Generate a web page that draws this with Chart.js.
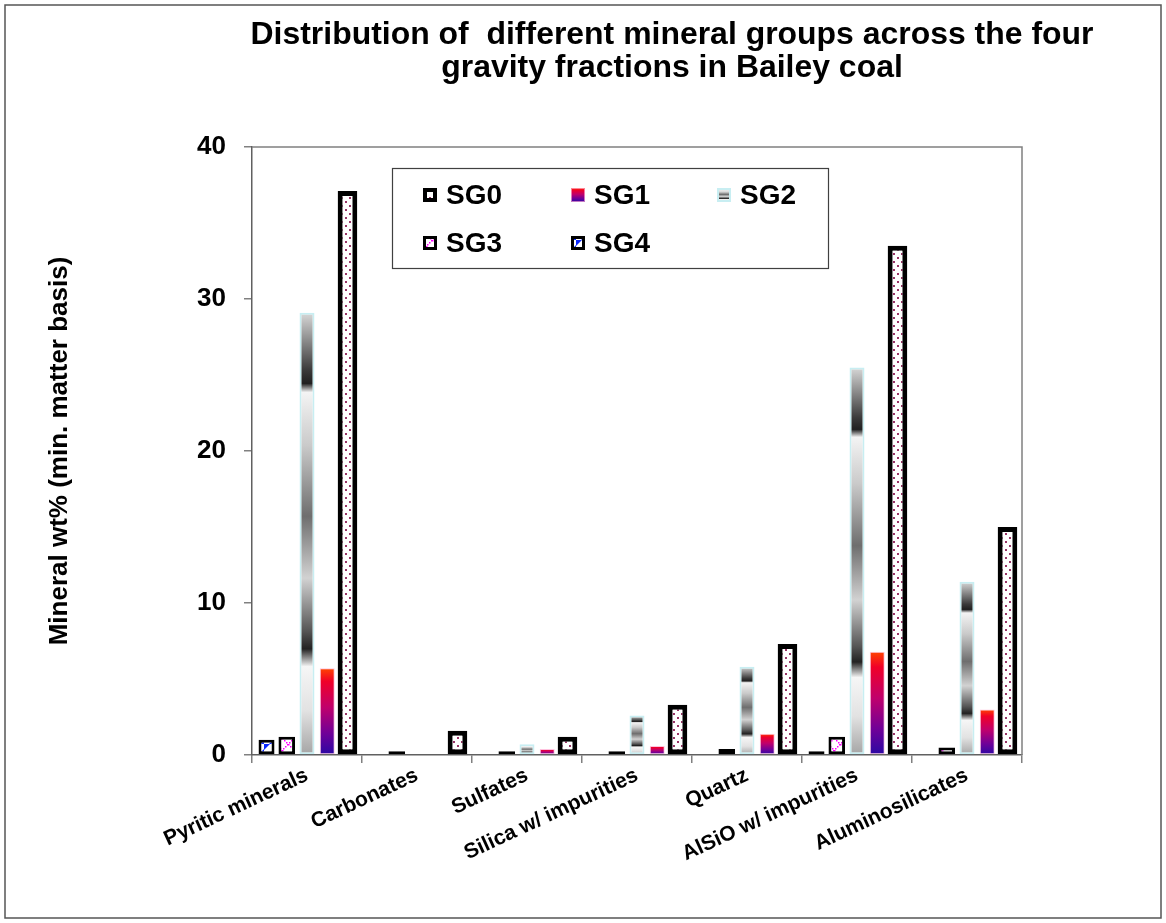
<!DOCTYPE html>
<html lang="en">
<head>
<meta charset="UTF-8">
<title>Mineral groups in Bailey coal</title>
<script src="https://cdn.jsdelivr.net/npm/chart.js"></script>
<style>
  html, body { margin: 0; padding: 0; background: #fff; }
  #wrap { width: 1166px; height: 923px; }
</style>
</head>
<body>
<div id="wrap"><canvas id="chart" width="1166" height="923"></canvas></div>
<script>
// values, wt% on a mineral matter basis
const categories = ['Pyritic minerals', 'Carbonates', 'Sulfates', 'Silica w/ impurities',
                    'Quartz', 'AlSiO w/ impurities', 'Aluminosilicates'];
const sg0 = [37.1, 1.6, 1.2, 3.3, 7.3, 33.5, 15.0];
const sg1 = [5.7, 0, 0.4, 0.6, 1.4, 6.8, 3.0];
const sg2 = [29.1, 0, 0.7, 2.6, 5.8, 25.5, 11.4];
const sg3 = [1.2, 0.25, 0.25, 0.25, 0.4, 1.2, 0.5];
const sg4 = [1.0, 0, 0, 0, 0, 0.25, 0];
const yTicks = [0, 10, 20, 30, 40];
const titleLines = ['Distribution of  different mineral groups across the four',
                    'gravity fractions in Bailey coal'];
const yTitle = 'Mineral wt% (min. matter basis)';

const FONT = '"Liberation Sans", Arial, sans-serif';

// --- fill patterns, roughly like the Excel ones ---
function makeTile(w, h, draw) {
    const c = document.createElement('canvas');
    c.width = w; c.height = h;
    const g = c.getContext('2d');
    g.fillStyle = '#ffffff';
    g.fillRect(0, 0, w, h);
    draw(g);
    return document.getElementById('chart').getContext('2d').createPattern(c, 'repeat');
}

const dotPattern = makeTile(8, 8, g => {
    g.fillStyle = '#993366';
    g.fillRect(1, 1, 2, 2);
    g.fillRect(5, 5, 2, 2);
});
const crossPattern = makeTile(12, 12, g => {
    g.fillStyle = '#ff00ff';
    for (let i = 0; i < 6; i++) {
        g.fillRect(i * 2, i * 2, 1.5, 1.5);
        g.fillRect(11 - i * 2, i * 2, 1.5, 1.5);
    }
});
const wedgePattern = makeTile(12, 12, g => {
    g.fillStyle = '#0a28ff';
    g.beginPath(); g.moveTo(0, 0); g.lineTo(6, 0); g.lineTo(0, 6); g.closePath(); g.fill();
    g.beginPath(); g.moveTo(12, 12); g.lineTo(5, 12); g.lineTo(12, 5); g.closePath(); g.fill();
});

const grayStops = [[0, '#d8d8d8'], [0.13, '#3a3a3a'], [0.16, '#202020'], [0.18, '#f4f4f4'],
                   [0.30, '#cacaca'], [0.46, '#6e6e6e'], [0.60, '#d2d2d2'], [0.72, '#555555'],
                   [0.76, '#222222'], [0.80, '#f6f6f6'], [0.90, '#e2e2e2'], [1, '#a4a4a4']];
const redStops = [[0, '#ff4400'], [0.15, '#f00028'], [0.45, '#c0006c'], [0.75, '#700098'], [1, '#2a08a4']];

function gradientFor(stops, top, bottom) {
    const ctx = document.getElementById('chart').getContext('2d');
    const g = ctx.createLinearGradient(0, top, 0, bottom);
    stops.forEach(s => g.addColorStop(s[0], s[1]));
    return g;
}

function barGradient(stops, fallback) {
    return function (c) {
        const y = c.chart.scales.y;
        if (!y || c.raw == null) return fallback;
        const top = y.getPixelForValue(c.raw);
        const bottom = y.getPixelForValue(0);
        if (!(bottom - top > 0.5)) return fallback;
        return gradientFor(stops, top, bottom);
    };
}

// bars run SG4 .. SG0 from left to right in each group
const datasets = [
    { label: 'SG4', data: sg4, backgroundColor: wedgePattern, borderColor: '#000000',
      borderWidth: 3, barPercentage: 0.79 },
    { label: 'SG3', data: sg3, backgroundColor: crossPattern, borderColor: '#000000',
      borderWidth: 3, barPercentage: 0.82 },
    { label: 'SG2', data: sg2, backgroundColor: barGradient(grayStops, '#b0b0b0'),
      borderColor: '#c8eef2', borderWidth: 2, barPercentage: 0.74 },
    { label: 'SG1', data: sg1, backgroundColor: barGradient(redStops, '#a00070'),
      borderColor: 'rgba(255,170,210,0.7)', borderWidth: 1, barPercentage: 0.74 },
    { label: 'SG0', data: sg0, backgroundColor: dotPattern, borderColor: '#000000',
      borderWidth: 5, barPercentage: 0.97 }
];
datasets.forEach(d => { d.categoryPercentage = 0.92; d.borderSkipped = false; });

// frame, plot box, title and the boxed legend
const decorations = {
    id: 'decorations',
    beforeDraw(chart) {
        const ctx = chart.ctx;
        ctx.save();
        ctx.fillStyle = '#ffffff';
        ctx.fillRect(0, 0, chart.width, chart.height);
        ctx.strokeStyle = '#555555';
        ctx.lineWidth = 1.5;
        ctx.strokeRect(5, 5, chart.width - 10, chart.height - 10);
        ctx.restore();
    },
    afterDraw(chart) {
        const ctx = chart.ctx;
        const a = chart.chartArea;
        ctx.save();
        ctx.strokeStyle = '#808080';
        ctx.lineWidth = 1.5;
        ctx.beginPath();
        ctx.moveTo(a.left, a.top);
        ctx.lineTo(a.right, a.top);
        ctx.lineTo(a.right, a.bottom);
        ctx.stroke();

        // title, a little narrow like the original
        ctx.fillStyle = '#000000';
        ctx.font = 'bold 31px ' + FONT;
        ctx.textAlign = 'center';
        ctx.textBaseline = 'middle';
        const squeeze = 843 / ctx.measureText(titleLines[0]).width;
        [35, 68].forEach((ty, i) => {
            ctx.save();
            ctx.translate(672, ty);
            ctx.scale(squeeze, 1);
            ctx.fillText(titleLines[i], 0, 0);
            ctx.restore();
        });

        // legend box
        const box = { x: 392, y: 168, w: 436, h: 100 };
        ctx.fillStyle = '#ffffff';
        ctx.fillRect(box.x, box.y, box.w, box.h);
        ctx.strokeStyle = '#404040';
        ctx.lineWidth = 1.2;
        ctx.strokeRect(box.x + 0.5, box.y + 0.5, box.w, box.h);
        const cols = [423, 571, 717];
        const rows = [195, 243];
        const order = chart.data.datasets.slice().reverse();
        order.forEach((ds, i) => {
            const sx = cols[i % 3], sy = rows[Math.floor(i / 3)] - 7;
            let fill = ds.backgroundColor;
            if (typeof fill === 'function') {
                fill = gradientFor(ds.label === 'SG2' ? grayStops : redStops, sy, sy + 14);
            }
            ctx.fillStyle = fill;
            ctx.fillRect(sx, sy, 14, 14);
            const bw = Math.min(ds.borderWidth, 4);
            ctx.strokeStyle = ds.borderColor;
            ctx.lineWidth = bw;
            ctx.strokeRect(sx + bw / 2, sy + bw / 2, 14 - bw, 14 - bw);
            ctx.fillStyle = '#000000';
            ctx.font = 'bold 28px ' + FONT;
            ctx.textAlign = 'left';
            ctx.textBaseline = 'middle';
            ctx.fillText(ds.label, sx + 23, sy + 8);
        });
        ctx.restore();
    }
};

new Chart(document.getElementById('chart'), {
    type: 'bar',
    data: { labels: categories, datasets: datasets },
    options: {
        responsive: false,
        animation: false,
        layout: { padding: { left: 0, top: 147, right: 144, bottom: 0 } },
        plugins: {
            legend: { display: false },
            title: { display: false },
            tooltip: { enabled: false }
        },
        scales: {
            x: {
                grid: { drawOnChartArea: false, offset: true, tickLength: 8, color: '#808080', lineWidth: 1.5 },
                border: { color: '#606060', width: 1.5 },
                ticks: {
                    autoSkip: false, minRotation: 25, maxRotation: 25, padding: 0,
                    color: '#000000', font: { family: FONT, size: 21, weight: 'bold' }
                },
                afterFit(scale) { scale.height = 168; }
            },
            y: {
                min: yTicks[0],
                max: yTicks[yTicks.length - 1],
                afterBuildTicks(scale) { scale.ticks = yTicks.map(v => ({ value: v })); },
                grid: { drawOnChartArea: false, tickLength: 8, color: '#808080', lineWidth: 1.5 },
                border: { color: '#606060', width: 1.5 },
                ticks: {
                    padding: 18, color: '#000000',
                    font: { family: FONT, size: 26, weight: 'bold' }
                },
                title: {
                    display: true, text: yTitle, color: '#000000',
                    font: { family: FONT, size: 26, weight: 'bold' },
                    padding: { top: 44, bottom: 0 }
                },
                afterFit(scale) { scale.width = 252; }
            }
        }
    },
    plugins: [decorations]
});
</script>
</body>
</html>
